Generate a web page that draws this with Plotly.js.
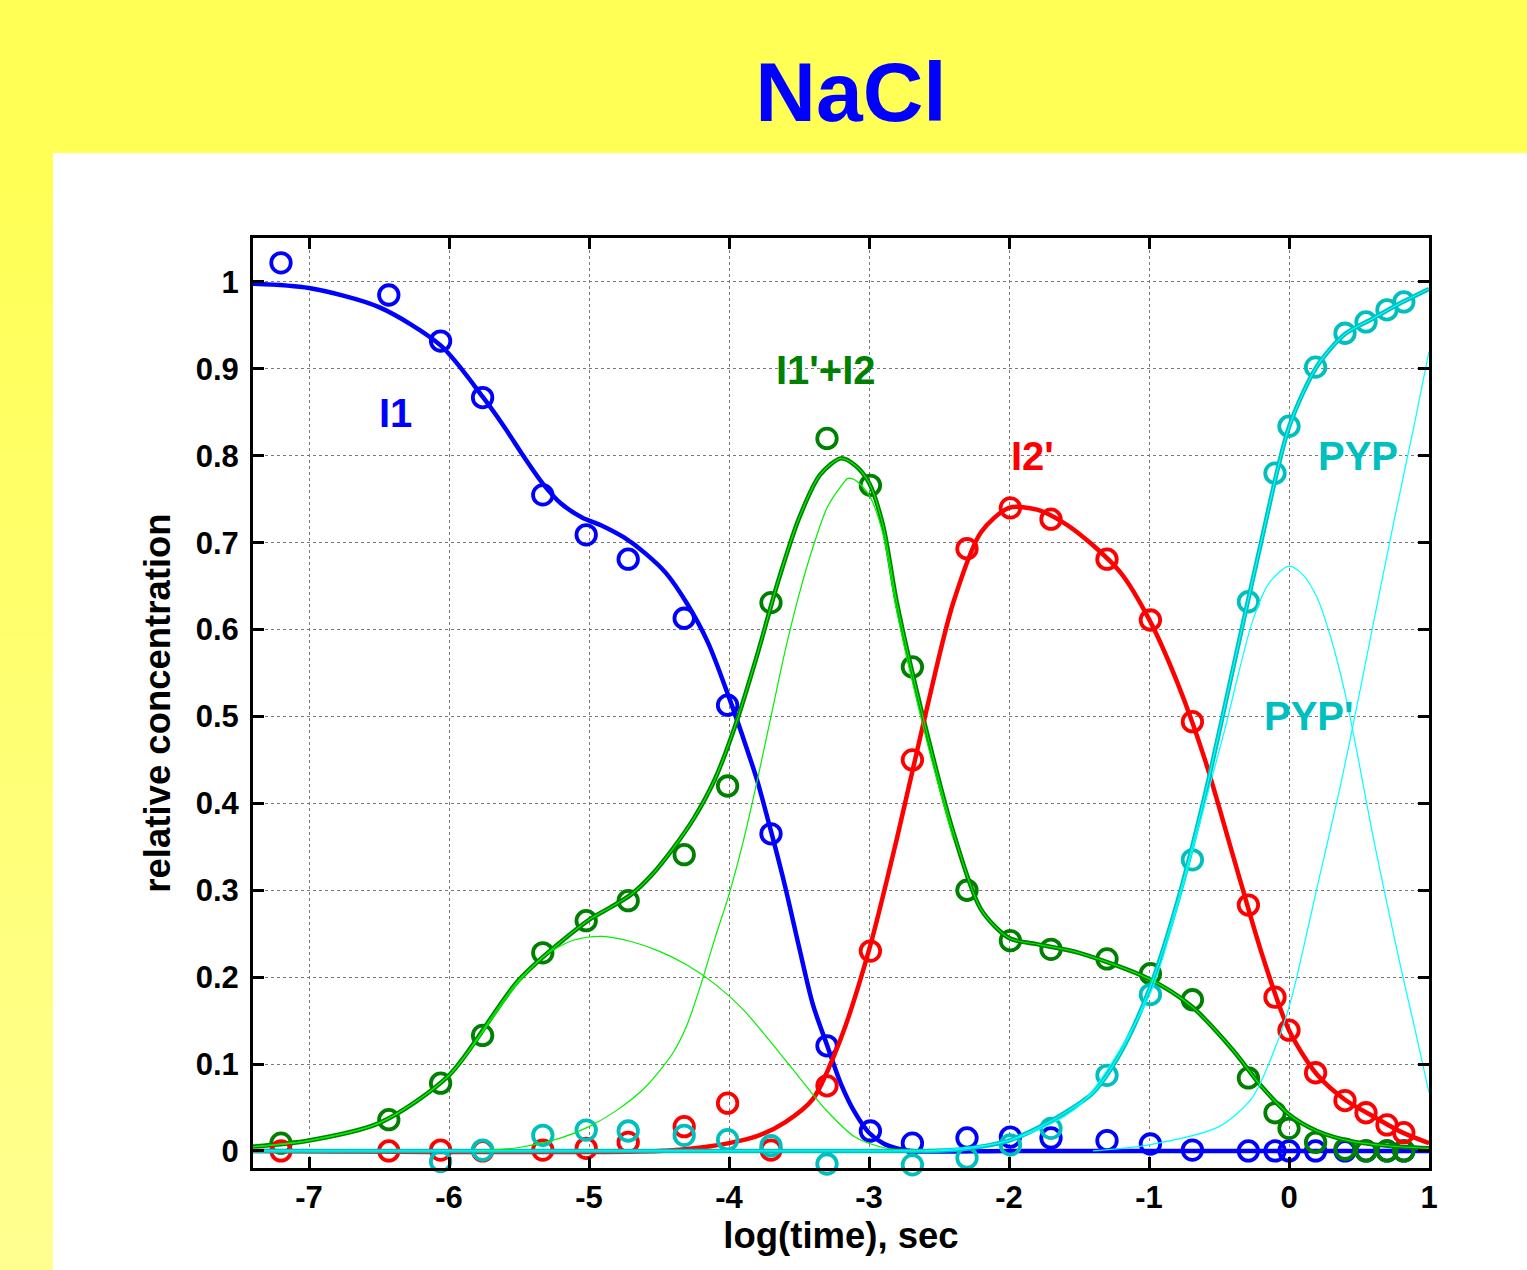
<!DOCTYPE html>
<html>
<head>
<meta charset="utf-8">
<script src="https://cdn.plot.ly/plotly-3.0.1.min.js"></script>
<style>html,body{margin:0;padding:0;background:#FFFF55;}#chart{width:1527px;height:1270px;}</style>
</head>
<body>
<div id="chart"></div>
<script>
// ---- measured data points (log10 time, relative concentration) ----
const tData = [-7.2, -6.43, -6.06, -5.76, -5.33, -5.02, -4.72, -4.32, -4.01, -3.70, -3.30, -2.99, -2.69, -2.30, -1.99, -1.70, -1.30, -0.99, -0.69, -0.29, -0.10, 0.0, 0.19, 0.40, 0.55, 0.70, 0.82];
const i1Data  = [1.022, 0.985, 0.932, 0.867, 0.755, 0.709, 0.681, 0.613, 0.513, 0.365, 0.121, 0.023, 0.009, 0.015, 0.016, 0.015, 0.012, 0.008, 0.001, 0.0, 0.0, 0.0, 0.0, 0.0, 0.0, 0.0, 0.0];
const i1pi2Data = [0.009, 0.036, 0.078, 0.133, 0.228, 0.265, 0.288, 0.341, 0.42, 0.631, 0.820, 0.766, 0.557, 0.300, 0.242, 0.232, 0.221, 0.204, 0.174, 0.084, 0.044, 0.026, 0.010, 0.002, 0.0, 0.0, 0.0];
const i2pData = [0.0, 0.0, 0.001, 0.0, 0.001, 0.003, 0.010, 0.028, 0.055, 0.001, 0.075, 0.230, 0.450, 0.693, 0.740, 0.727, 0.681, 0.611, 0.494, 0.283, 0.177, 0.139, 0.090, 0.058, 0.044, 0.030, 0.021];
const pypData = [null, null, -0.012, 0.001, 0.018, 0.024, 0.023, 0.018, 0.013, 0.006, -0.015, -0.020, -0.016, -0.008, 0.007, 0.026, 0.087, 0.180, 0.335, 0.632, 0.780, 0.834, 0.902, 0.941, 0.954, 0.968, 0.977];

// ---- fitted curves ----
const fitI1X = [-7.4, -7.0, -6.5, -6.06, -5.76, -5.6, -5.47, -5.33, -5.2, -5.05, -4.9, -4.75, -4.6, -4.45, -4.3, -4.15, -4.0, -3.9, -3.8, -3.7, -3.6, -3.5, -3.4, -3.3, -3.2, -3.1, -3.0, -2.9, -2.8, -2.7, -2.0, -1.0, 0.0, 1.0];
const fitI1Y = [0.998, 0.993, 0.971, 0.927, 0.868, 0.832, 0.800, 0.768, 0.745, 0.729, 0.719, 0.706, 0.688, 0.665, 0.630, 0.585, 0.522, 0.476, 0.427, 0.368, 0.305, 0.235, 0.168, 0.122, 0.077, 0.044, 0.021, 0.009, 0.003, 0.0, 0.0, 0.0, 0.0, 0.0];

const fitI1pI2X = [-7.4, -7.0, -6.5, -6.0, -5.5, -5.0, -4.85, -4.7, -4.55, -4.4, -4.25, -4.1, -3.95, -3.8, -3.65, -3.5, -3.35, -3.2, -3.1, -3.0, -2.9, -2.8, -2.6, -2.4, -2.2, -2.0, -1.8, -1.5, -1.0, -0.7, -0.4, -0.2, 0.0, 0.2, 0.45, 0.7, 1.0];
const fitI1pI2Y = [0.005, 0.012, 0.032, 0.087, 0.197, 0.266, 0.280, 0.295, 0.318, 0.348, 0.383, 0.428, 0.492, 0.570, 0.655, 0.728, 0.778, 0.797, 0.789, 0.769, 0.72, 0.63, 0.49, 0.368, 0.278, 0.245, 0.238, 0.228, 0.198, 0.167, 0.116, 0.075, 0.042, 0.023, 0.011, 0.006, 0.003];

const fitI2pX = [-7.4, -4.5, -4.2, -4.0, -3.8, -3.6, -3.4, -3.2, -3.0, -2.8, -2.6, -2.4, -2.2, -2.0, -1.8, -1.6, -1.4, -1.2, -1.0, -0.8, -0.6, -0.4, -0.2, 0.0, 0.2, 0.4, 0.6, 0.8, 1.0];
const fitI2pY = [0.0, 0.0, 0.004, 0.009, 0.017, 0.033, 0.06, 0.13, 0.231, 0.36, 0.50, 0.63, 0.712, 0.740, 0.738, 0.722, 0.697, 0.665, 0.612, 0.54, 0.45, 0.34, 0.23, 0.139, 0.088, 0.059, 0.04, 0.022, 0.009];

const fitPypX = [-7.4, -2.6, -2.4, -2.2, -2.0, -1.8, -1.6, -1.4, -1.2, -1.0, -0.8, -0.6, -0.4, -0.2, 0.0, 0.2, 0.4, 0.6, 0.8, 1.0];
const fitPypY = [0.0, 0.0, 0.001, 0.005, 0.012, 0.026, 0.044, 0.067, 0.114, 0.185, 0.285, 0.41, 0.555, 0.70, 0.833, 0.903, 0.94, 0.958, 0.976, 0.992];

// thin component curves
const compAX = [-7.4, -7.0, -6.5, -6.0, -5.5, -5.3, -5.1, -4.9, -4.7, -4.5, -4.3, -4.1, -3.9, -3.7, -3.5, -3.3, -3.1, -2.9, -2.7, -2.5];
const compAY = [0.005, 0.012, 0.032, 0.087, 0.195, 0.227, 0.243, 0.247, 0.241, 0.23, 0.214, 0.192, 0.163, 0.125, 0.085, 0.046, 0.016, 0.004, 0.0, 0.0];
const compBX = [-5.8, -5.5, -5.2, -5.0, -4.8, -4.6, -4.4, -4.3, -4.2, -4.1, -4.0, -3.9, -3.8, -3.7, -3.6, -3.5, -3.4, -3.3, -3.2, -3.15, -3.1, -3.0, -2.9, -2.8, -2.6, -2.4];
const compBY = [0.0, 0.004, 0.015, 0.028, 0.047, 0.073, 0.113, 0.145, 0.192, 0.245, 0.295, 0.355, 0.425, 0.50, 0.575, 0.64, 0.695, 0.74, 0.765, 0.774, 0.772, 0.755, 0.71, 0.62, 0.48, 0.36];
const pypPrimeX = [-2.6, -2.0, -1.5, -1.0, -0.8, -0.6, -0.46, -0.26, -0.14, 0.0, 0.1, 0.2, 0.3, 0.4, 0.5, 0.6, 0.7, 0.8, 0.9, 1.0];
const pypPrimeY = [0.0, 0.012, 0.052, 0.178, 0.28, 0.40, 0.484, 0.61, 0.654, 0.673, 0.663, 0.637, 0.59, 0.527, 0.447, 0.362, 0.285, 0.21, 0.14, 0.067];
const pypFinalX = [-1.4, -1.0, -0.5, -0.26, -0.07, 0.02, 0.21, 0.36, 0.45, 0.6, 0.75, 0.9, 1.0];
const pypFinalY = [0.0, 0.007, 0.028, 0.062, 0.131, 0.177, 0.31, 0.415, 0.484, 0.605, 0.725, 0.84, 0.92];

// tick labels
const xTickVals = [-7, -6, -5, -4, -3, -2, -1, 0, 1];
const xTickText = ['-7', '-6', '-5', '-4', '-3', '-2', '-1', '0', '1'];
const yTickVals = [0, 0.1, 0.2, 0.3, 0.4, 0.5, 0.6, 0.7, 0.8, 0.9, 1];
const yTickText = ['0', '0.1', '0.2', '0.3', '0.4', '0.5', '0.6', '0.7', '0.8', '0.9', '1'];

// ---- styling ----
const BLUE = '#0000FF', DKGREEN = '#008000', RED = '#FF0000', CYAN = '#00BFBF', LTGREEN = '#00F000', LTCYAN = '#00FFFF';
const FONT = 'Liberation Sans, Arial, Helvetica, sans-serif';

function markers(y, color) {
  return {x: tData, y: y, mode: 'markers', type: 'scatter', cliponaxis: false, hoverinfo: 'skip',
    marker: {symbol: 'circle-open', size: 19.5, color: color, line: {width: 3.8, color: color}}};
}
function curve(x, y, color, width) {
  return {x: x, y: y, mode: 'lines', type: 'scatter', hoverinfo: 'skip',
    line: {color: color, width: width, shape: 'spline', smoothing: 0.8}};
}

const traces = [
  markers(i1Data, BLUE), curve(fitI1X, fitI1Y, BLUE, 4.5),
  markers(i1pi2Data, DKGREEN), curve(fitI1pI2X, fitI1pI2Y, DKGREEN, 4.5),
  markers(i2pData, RED), curve(fitI2pX, fitI2pY, RED, 4.5),
  markers(pypData, CYAN), curve(fitPypX, fitPypY, CYAN, 4.5),
  curve(fitI1pI2X, fitI1pI2Y, LTGREEN, 1.2),
  curve(compAX, compAY, LTGREEN, 1.2),
  curve(compBX, compBY, LTGREEN, 1.2),
  curve(fitPypX, fitPypY, LTCYAN, 1.2),
  curve(pypPrimeX, pypPrimeY, LTCYAN, 1.2),
  curve(pypFinalX, pypFinalY, LTCYAN, 1.2)
];

// pixel -> paper helpers for the background panels
const W = 1527, H = 1270, L = 253, R = 1429, T = 238, B = 1168;
const px = v => (v - L) / (R - L);
const py = v => (B - v) / (B - T);

const shapes = [];
// left strip gradient
const nStrip = 30;
for (let i = 0; i < nStrip; i++) {
  const y0 = 153 + (H - 153) * i / nStrip, y1 = 153 + (H - 153) * (i + 1) / nStrip + 1;
  const f = (i + 0.5) / nStrip;
  const b = Math.round(85 + f * 60);
  shapes.push({type: 'rect', xref: 'paper', yref: 'paper', x0: px(0), x1: px(53), y0: py(y1), y1: py(y0),
    fillcolor: 'rgb(255,255,' + b + ')', line: {width: 0}, layer: 'below'});
}
shapes.push({type: 'rect', xref: 'paper', yref: 'paper', x0: px(53), x1: px(W + 2), y0: py(H + 2), y1: py(153),
  fillcolor: '#FFFFFF', line: {width: 0}, layer: 'below'});

const annFont = (c) => ({family: FONT, size: 40, color: c, weight: 'bold'});
const annotations = [
  {x: -6.38, y: 0.849, text: 'I1', font: annFont(BLUE)},
  {x: -3.31, y: 0.899, text: "I1'+I2", font: annFont(DKGREEN)},
  {x: -1.83, y: 0.80, text: "I2'", font: annFont(RED)},
  {x: 0.49, y: 0.80, text: 'PYP', font: annFont(CYAN)},
  {x: 0.14, y: 0.50, text: "PYP'", font: annFont(CYAN)}
].map(a => Object.assign({xref: 'x', yref: 'y', showarrow: false, xanchor: 'center', yanchor: 'middle'}, a));

const axisCommon = {
  showline: true, linecolor: '#000', linewidth: 3, mirror: 'ticks',
  ticks: 'inside', ticklen: 11, tickwidth: 3, tickcolor: '#000',
  showgrid: true, gridcolor: '#7a7a7a', griddash: 'dot', gridwidth: 1,
  zeroline: false, tickfont: {family: FONT, size: 31, color: '#000', weight: 'bold'}
};

const layout = {
  width: W, height: H,
  margin: {l: L, r: W - R, t: T, b: H - B, pad: 0},
  paper_bgcolor: '#FFFF55', plot_bgcolor: 'rgba(0,0,0,0)',
  showlegend: false,
  title: {text: 'NaCl', font: {family: FONT, size: 84, color: BLUE, weight: 'bold'},
    xref: 'container', yref: 'container', x: 851 / W, y: 1 - 92 / H, xanchor: 'center', yanchor: 'middle'},
  xaxis: Object.assign({}, axisCommon, {range: [-7.4, 1.0], tickmode: 'array', tickvals: xTickVals, ticktext: xTickText,
    title: {text: 'log(time), sec', font: {family: FONT, size: 36.5, color: '#000', weight: 'bold'}, standoff: 6}}),
  yaxis: Object.assign({}, axisCommon, {range: [-0.0196, 1.0506], tickmode: 'array', tickvals: yTickVals, ticktext: yTickText,
    ticklabelstandoff: 5,
    title: {text: 'relative concentration', font: {family: FONT, size: 36.5, color: '#000', weight: 'bold'}, standoff: 14}}),
  shapes: shapes,
  annotations: annotations
};

Plotly.newPlot('chart', traces, layout, {staticPlot: true, displayModeBar: false});
</script>
</body>
</html>
